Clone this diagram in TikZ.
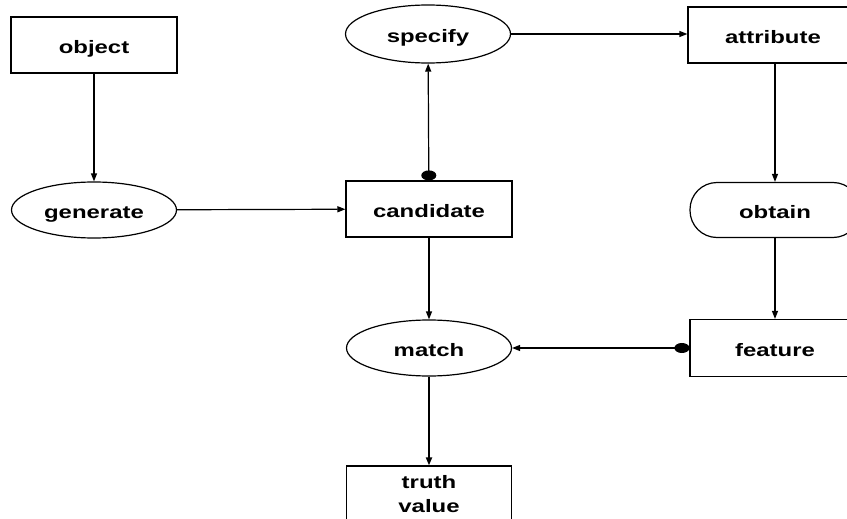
\documentclass[tikz,border=0pt]{standalone}
\usepackage{fontspec}
\setmainfont{Liberation Sans}[FakeStretch=1.33]
\usetikzlibrary{shapes.geometric,arrows.meta}
\begin{document}
\begin{tikzpicture}[x=1pt,y=-1pt,
  every node/.style={inner sep=0pt,font=\fontsize{18}{24}\selectfont\bfseries,align=center},
  oneline/.style={text height=20pt,text depth=3pt},
  frame/.style={draw,line width=1.2pt,minimum width=166pt,minimum height=56pt},
  box/.style={frame,oneline},
  oval/.style={ellipse,draw,line width=1.2pt,minimum width=165pt,minimum height=56pt,oneline},
  pill/.style={draw,line width=1.2pt,rounded corners=27pt,minimum width=170pt,minimum height=55pt,oneline},
  tip/.style={-{Triangle[length=8pt,width=6pt]}},
  flow/.style={line width=1.2pt,tip},
  vdotflow/.style={line width=1.2pt,{Circle[length=10pt,width=15pt]}-{Triangle[length=8pt,width=6pt]}},
  hdotflow/.style={line width=1.2pt,{Circle[length=15pt,width=10pt]}-{Triangle[length=8pt,width=6pt]}}]
\useasboundingbox (0,0) rectangle (847,519);
\clip (0,0) rectangle (847,519);

% entities and processes
\node[box]  (object)    at (94,45)   {object};
\node[oval] (generate)  at (94,210)  {generate};
\node[box]  (candidate) at (429,209) {candidate};
\node[oval,minimum height=58pt] (specify) at (428,34) {specify};
\node[box,minimum width=170pt]  (attribute) at (773,35)  {attribute};
\node[pill] (obtain)    at (775,210) {obtain};
\node[box,minimum width=170pt,minimum height=57pt] (feature) at (775,348) {feature};
\node[oval] (match)     at (429,348) {match};
\node[frame,minimum width=165pt] (truth) at (429,494) {truth\\value};

% data flow
\draw[flow] (object) -- (generate);
\draw[flow] (generate) -- (candidate);
\draw[vdotflow] (candidate) -- (specify);
\draw[flow] (specify) -- (attribute.west |- specify.east);
\draw[flow] (attribute.south -| obtain.north) -- (obtain);
\draw[flow] (obtain) -- (feature);
\draw[hdotflow] (feature) -- (match);
\draw[flow] (candidate) -- (match);
\draw[flow,line width=1.8pt] (match) -- (truth);
\end{tikzpicture}
\end{document}
